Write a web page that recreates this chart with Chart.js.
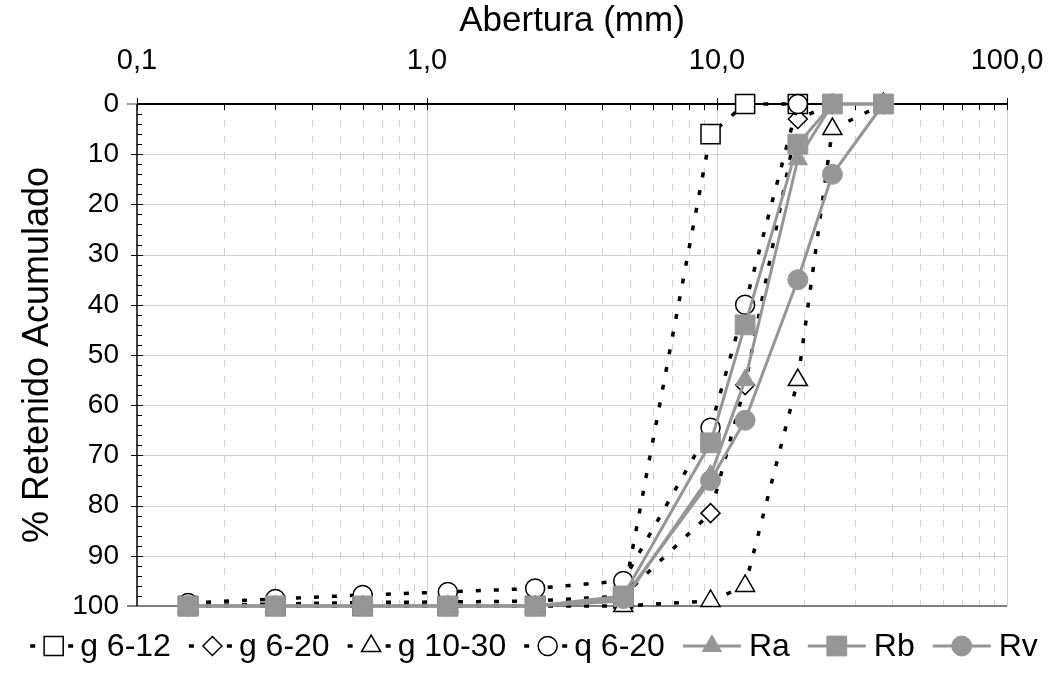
<!DOCTYPE html>
<html>
<head>
<meta charset="utf-8">
<script src="https://cdn.jsdelivr.net/npm/chart.js@4/dist/chart.umd.min.js"></script>
<style>
  html, body { margin: 0; padding: 0; background: #fff; }
  #wrap { width: 1053px; height: 674px; }
</style>
</head>
<body>
<div id="wrap"><canvas id="myChart"></canvas></div>
<script>
// sieve openings (mm) and cumulative % retained for each sample
const sieves = [0.15, 0.3, 0.6, 1.18, 2.36, 4.75, 9.5, 12.5, 19, 25, 37.5];
const g612 = [100, 100, 100, 100, 100, 98.5, 6, 0, 0, null, null];
const g620 = [100, 99.6, 99.3, 99.2, 99, 98, 81.5, 56, 3, 0, null];
const g1030 = [100, 100, 100, 100, 100, 100, 99, 96, 55, 5, 0];
const q620 = [99.4, 98.6, 97.8, 97.2, 96.5, 95, 64.5, 40, 0, null, null];
const ra = [100, 100, 100, 100, 100, 99, 74, 55, 11, 0, 0];
const rb = [100, 100, 100, 100, 100, 98, 67.5, 44, 8, 0, 0];
const rv = [100, 100, 100, 100, 100, 98.5, 75, 63, 35, 14, 0];

const xTicks = [0.1, 1, 10, 100];
const yTicks = [0, 10, 20, 30, 40, 50, 60, 70, 80, 90, 100];

const FONT = '"Liberation Sans", Arial, sans-serif';
const GRAY = '#969696';
Chart.defaults.font.family = FONT;
Chart.defaults.color = '#000';

function pts(arr) {
  return sieves.map((s, i) => ({ x: s, y: arr[i] })).filter(p => p.y !== null);
}

function dotted(label, arr, style, radius) {
  return {
    label: label,
    data: pts(arr),
    borderColor: '#000',
    borderWidth: 3.5,
    borderDash: [5, 13],
    borderCapStyle: 'butt',
    pointStyle: style,
    pointRadius: radius,
    pointBackgroundColor: '#fff',
    pointBorderColor: '#000',
    pointBorderWidth: 1.5,
    dotted: true,
  };
}

function solid(label, arr, style, radius) {
  return {
    label: label,
    data: pts(arr),
    borderColor: GRAY,
    borderWidth: 3,
    pointStyle: style,
    pointRadius: radius,
    pointBackgroundColor: GRAY,
    pointBorderColor: GRAY,
    pointBorderWidth: 1,
    dotted: false,
  };
}

const datasets = [
  dotted('g 6-12', g612, 'rect', 13.5),
  dotted('g 6-20', g620, 'rectRot', 9.5),
  dotted('g 10-30', g1030, 'triangle', 11),
  dotted('q 6-20', q620, 'circle', 9.5),
  solid('Ra', ra, 'triangle', 11),
  solid('Rb', rb, 'rect', 14),
  solid('Rv', rv, 'circle', 10),
];
// later series sit on top, as in the original
datasets.forEach((d, i) => { d.order = datasets.length - i; d.clip = false; });

function marker(ctx, style, r, x, y) {
  ctx.beginPath();
  if (style === 'rect') {
    const s = r * Math.SQRT1_2;
    ctx.rect(x - s, y - s, 2 * s, 2 * s);
  } else if (style === 'rectRot') {
    ctx.moveTo(x, y - r); ctx.lineTo(x + r, y); ctx.lineTo(x, y + r); ctx.lineTo(x - r, y);
    ctx.closePath();
  } else if (style === 'triangle') {
    for (let k = 0; k < 3; k++) {
      const a = k * 2 * Math.PI / 3;
      const px = x + Math.sin(a) * r, py = y - Math.cos(a) * r;
      if (k === 0) ctx.moveTo(px, py); else ctx.lineTo(px, py);
    }
    ctx.closePath();
  } else {
    ctx.arc(x, y, r, 0, Math.PI * 2);
  }
  ctx.fill();
  ctx.stroke();
}

const frame = {
  id: 'frame',
  beforeDatasetsDraw(chart) {
    const { ctx, chartArea: a, scales: { x, y } } = chart;
    const seg = (x1, y1, x2, y2) => { ctx.beginPath(); ctx.moveTo(x1, y1); ctx.lineTo(x2, y2); ctx.stroke(); };
    ctx.save();
    ctx.lineWidth = 1;
    ctx.strokeStyle = '#d0d0d0';
    for (let v = 10; v < 100; v += 10) {
      const py = Math.round(y.getPixelForValue(v)) + 0.5;
      seg(a.left, py, a.right, py);
    }
    // vertical log grid
    for (let d = 0.1; d < 50; d *= 10) {
      for (let k = 1; k <= 9; k++) {
        const px = Math.round(x.getPixelForValue(d * k)) + 0.5;
        ctx.setLineDash(k === 1 ? [] : [7, 9]);
        if (k > 1 || d > 0.5) seg(px, a.top, px, a.bottom);
      }
    }
    ctx.setLineDash([]);
    const p100 = Math.round(x.getPixelForValue(100)) + 0.5;
    seg(p100, a.top, p100, a.bottom);

    // bottom line
    ctx.strokeStyle = '#808080';
    ctx.lineWidth = 2;
    seg(a.left - 10, a.bottom, a.right, a.bottom);
    ctx.lineWidth = 1.5;
    seg(a.left - 10, a.top, a.left, a.top);

    // axes
    ctx.strokeStyle = '#000';
    ctx.lineWidth = 1.5;
    seg(a.left, a.top, a.left, a.bottom);
    ctx.lineWidth = 2;
    seg(a.left, a.top, a.right, a.top);

    // y ticks
    ctx.lineWidth = 1;
    for (let v = 2; v < 100; v += 2) {
      const py = Math.round(y.getPixelForValue(v)) + 0.5;
      if (v % 10 === 0) seg(a.left - 6, py, a.left + 6, py);
      else seg(a.left, py, a.left + 5, py);
    }
    // x ticks
    for (let d = 0.1; d < 50; d *= 10) {
      for (let k = 1; k <= 9; k++) {
        const px = Math.round(x.getPixelForValue(d * k)) + 0.5;
        if (k === 1) seg(px, a.top - 6, px, a.top + 6);
        else seg(px, a.top, px, a.top + 6);
      }
    }
    seg(p100, a.top - 6, p100, a.top + 6);
    ctx.restore();
  },
  afterDraw(chart) {
    const { ctx } = chart;
    ctx.save();
    ctx.font = '32px ' + FONT;
    ctx.textBaseline = 'middle';
    const yc = 646;
    const items = chart.data.datasets.map(d => ({
      d: d,
      sample: d.dotted ? 44 : 58,
      gap: d.dotted ? 6 : 8,
      tw: ctx.measureText(d.label).width,
    }));
    const gapItem = 18;
    let total = 0;
    items.forEach((it, i) => { total += it.sample + it.gap + it.tw + (i < items.length - 1 ? gapItem : 0); });
    let cx = 534 - total / 2;
    items.forEach(it => {
      const d = it.d;
      ctx.strokeStyle = d.borderColor;
      ctx.lineWidth = d.borderWidth;
      ctx.setLineDash(d.dotted ? [5, 14] : []);
      ctx.lineDashOffset = 0;
      ctx.beginPath();
      ctx.moveTo(cx, yc);
      ctx.lineTo(cx + it.sample, yc);
      ctx.stroke();
      ctx.setLineDash([]);
      ctx.fillStyle = d.pointBackgroundColor;
      ctx.strokeStyle = d.pointBorderColor;
      ctx.lineWidth = d.pointBorderWidth;
      marker(ctx, d.pointStyle, d.pointRadius, cx + (d.dotted ? 23.5 : it.sample / 2), yc);
      ctx.fillStyle = '#000';
      ctx.fillText(d.label, cx + it.sample + it.gap, yc + 1);
      cx += it.sample + it.gap + it.tw + gapItem;
    });
    ctx.restore();
  }
};

new Chart(document.getElementById('myChart'), {
  type: 'line',
  data: { datasets: datasets },
  options: {
    responsive: true,
    maintainAspectRatio: false,
    animation: false,
    layout: { padding: { left: 0, top: 0, right: 46, bottom: 68 } },
    elements: { line: { tension: 0 } },
    plugins: { legend: { display: false }, tooltip: { enabled: false } },
    scales: {
      x: {
        type: 'logarithmic',
        position: 'top',
        min: 0.1,
        max: 100,
        afterBuildTicks: s => { s.ticks = xTicks.map(v => ({ value: v })); },
        afterFit: s => { s.height = 104; },
        grid: { display: true, drawOnChartArea: false, drawTicks: true, tickLength: 26, tickColor: 'rgba(0,0,0,0)' },
        border: { display: false },
        ticks: {
          autoSkip: false,
          maxRotation: 0,
          padding: 0,
          font: { size: 29 },
          callback: v => Number(v).toFixed(1).replace('.', ','),
        },
        title: { display: true, text: 'Abertura (mm)', font: { size: 35 }, padding: { top: 0, bottom: 0 } },
      },
      y: {
        type: 'linear',
        reverse: true,
        min: 0,
        max: 100,
        afterBuildTicks: s => { s.ticks = yTicks.map(v => ({ value: v })); },
        afterFit: s => { s.width = 137; },
        grid: { display: false },
        border: { display: false },
        ticks: { padding: 10, font: { size: 28 } },
        title: { display: true, text: '% Retenido Acumulado', font: { size: 36 }, padding: { top: 16, bottom: 0 } },
      },
    },
  },
  plugins: [frame],
});
</script>
</body>
</html>
